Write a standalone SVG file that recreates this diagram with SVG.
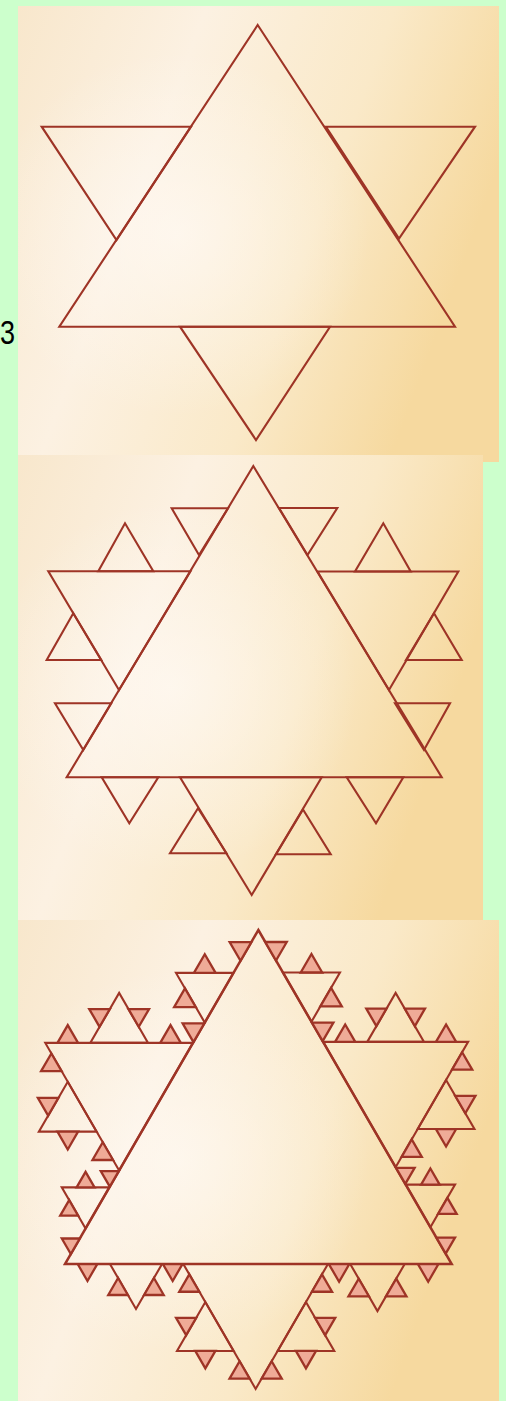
<svg xmlns="http://www.w3.org/2000/svg" width="506" height="1401" viewBox="0 0 506 1401">
<defs>
<style>
.ln{fill:none;stroke:#9e3426;stroke-width:2.1;stroke-linejoin:miter;vector-effect:non-scaling-stroke}
.p3 .ln{stroke-width:2.5}
.tiny{fill:#efab97;stroke:#9e3426;stroke-width:2.3;vector-effect:non-scaling-stroke}
.lbl{font-family:"Liberation Sans",Arial,sans-serif;font-size:33px;fill:#000}
</style>
<linearGradient id="bg" x1="0" y1="0" x2="1" y2="0.35">
<stop offset="0" stop-color="#f8e7cc"/>
<stop offset="0.35" stop-color="#fcf1e2"/>
<stop offset="0.7" stop-color="#fae9c8"/>
<stop offset="1" stop-color="#f6d99f"/>
</linearGradient>
<radialGradient id="hl" cx="0.33" cy="0.5" r="0.4">
<stop offset="0" stop-color="#fffaf5" stop-opacity="0.7"/>
<stop offset="1" stop-color="#fffaf5" stop-opacity="0"/>
</radialGradient>
<polygon id="tri" class="tiny" points="-0.5,0 0,-0.866 0.5,0"/>
<g id="L2">
<polygon class="ln" points="0.3043,0 0.5,-0.339 0.6957,0"/>
<use href="#tri" transform="translate(0.15215,0) scale(0.1394)"/>
<use href="#tri" transform="translate(0.40215,-0.1695) rotate(-60) scale(0.1394)"/>
<use href="#tri" transform="translate(0.59785,-0.1695) rotate(60) scale(0.1394)"/>
<use href="#tri" transform="translate(0.84785,0) scale(0.1394)"/>
</g>
<g id="S2">
<polygon class="ln" points="0.38,0 0.6,-0.381 0.82,0"/>
<use href="#tri" transform="translate(0.19,0) scale(0.1659)"/>
<use href="#tri" transform="translate(0.49,-0.1905) rotate(-60) scale(0.1659)"/>
<use href="#tri" transform="translate(0.71,-0.1905) rotate(60) scale(0.1659)"/>
<use href="#tri" transform="translate(0.91,0) scale(0.1659)"/>
</g>
<g id="K1r">
<polygon class="ln" points="0.335,0 0.5225,-0.32475 0.71,0"/>
<use href="#S2" transform="scale(0.335)"/>
<use href="#L2" transform="translate(0.335,0) rotate(-60) scale(0.375)"/>
<use href="#L2" transform="translate(0.5225,-0.32475) rotate(60) scale(0.375)"/>
<use href="#S2" transform="translate(1,0) scale(-0.29,0.29)"/>
</g>
<g id="K1b">
<polygon class="ln" points="0.32,0 0.507,-0.3239 0.694,0"/>
<use href="#S2" transform="scale(0.32)"/>
<use href="#L2" transform="translate(0.32,0) rotate(-60) scale(0.374)"/>
<use href="#L2" transform="translate(0.507,-0.3239) rotate(60) scale(0.374)"/>
<use href="#S2" transform="translate(1,0) scale(-0.306,0.306)"/>
</g>
<g id="K1l">
<polygon class="ln" points="0.28,0 0.471,-0.3308 0.662,0"/>
<use href="#S2" transform="scale(0.28)"/>
<use href="#L2" transform="translate(0.28,0) rotate(-60) scale(0.382)"/>
<use href="#L2" transform="translate(0.471,-0.3308) rotate(60) scale(0.382)"/>
<use href="#S2" transform="translate(1,0) scale(-0.338,0.338)"/>
</g>
</defs>

<rect id="background" x="0" y="0" width="506" height="1401" fill="#ccffcc"/>

<g id="panel1">
<rect x="18" y="6" width="481" height="456" fill="url(#bg)"/>
<rect x="18" y="6" width="481" height="456" fill="url(#hl)"/>
<polygon class="ln" points="257.7,25 455,326.7 59.3,326.7"/>
<polygon class="ln" points="41.7,126.7 191,126.7 116.5,240"/>
<polygon class="ln" points="326,126.7 475,126.7 399,238.5"/>
<polygon class="ln" points="180,326.7 330,326.7 256,440"/>
</g>

<g id="panel2">
<rect x="18" y="455" width="465" height="465" fill="url(#bg)"/>
<rect x="18" y="455" width="465" height="465" fill="url(#hl)"/>
<polygon class="ln" points="253.3,466 441.7,777.3 66.7,777.3"/>
<polygon class="ln" points="48.3,571.3 190.5,571.3 119,690"/>
<polygon class="ln" points="317.5,571.5 458.3,571.5 389,690"/>
<polygon class="ln" points="180,777.3 321.7,777.3 251.7,895"/>
<polygon class="ln" points="171.7,508.3 228,508.3 199,555"/>
<polygon class="ln" points="279,508 337.3,508 307.5,555"/>
<polygon class="ln" points="98.3,571.3 153.3,571.3 125,523.3"/>
<polygon class="ln" points="355,571.5 410.7,571.5 383.3,523.3"/>
<polygon class="ln" points="73.3,613.3 46.7,660 101.3,660"/>
<polygon class="ln" points="434,613.3 461.7,660 406,660"/>
<polygon class="ln" points="55,703.3 111.3,703.3 83.3,750"/>
<polygon class="ln" points="395,703.3 450,703.3 424,750"/>
<polygon class="ln" points="101.7,777.3 158.3,777.3 129.3,823.3"/>
<polygon class="ln" points="346.7,777.3 403.3,777.3 376,823.3"/>
<polygon class="ln" points="198,808.3 170,853.3 226.5,853.3"/>
<polygon class="ln" points="303,809.5 276,854.3 330.7,854.3"/>
</g>

<g id="panel3" class="p3">
<rect x="18" y="920" width="481" height="481" fill="url(#bg)"/>
<rect x="18" y="920" width="481" height="481" fill="url(#hl)"/>
<g transform="translate(65,930) scale(386.7,385.7)">
<polygon class="ln" points="0.5,0 1,0.866025 0,0.866025"/>
<use href="#K1r" transform="translate(0.5,0) rotate(60)"/>
<use href="#K1b" transform="translate(1,0.866025) rotate(180)"/>
<use href="#K1l" transform="translate(0,0.866025) rotate(-60)"/>
</g>
</g>

<text class="lbl" transform="translate(0,344) scale(0.82,1)" x="0" y="0">3</text>
</svg>
